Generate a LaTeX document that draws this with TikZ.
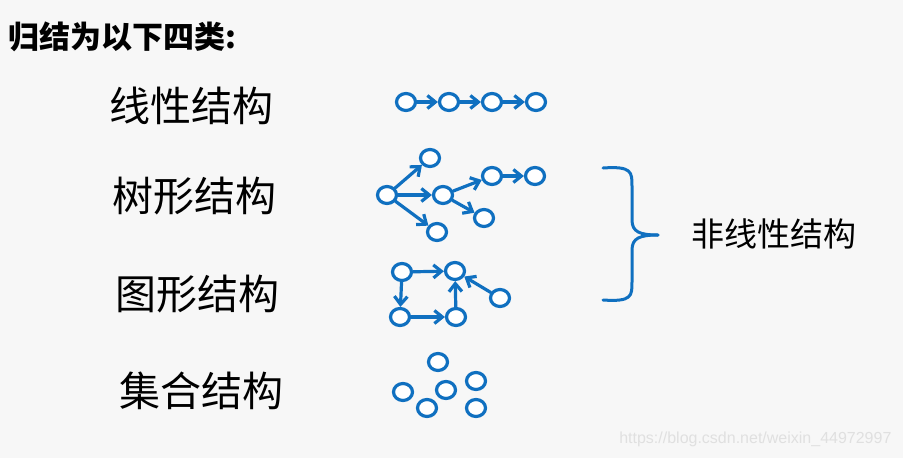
\documentclass[tikz,border=0pt]{standalone}
\usepackage{fontspec}
\newfontfamily\cjk{Noto Sans CJK SC}
\usetikzlibrary{arrows.meta,shapes.geometric}
\definecolor{dsblue}{RGB}{16,112,192}

\begin{document}
\begin{tikzpicture}[x=1pt,y=-1pt,>={Straight Barb[length=8pt,width=13pt]}, line join=round, line cap=round,
	vtx/.style={ellipse,draw=dsblue,fill=white,line width=3.2pt,minimum width=19pt,minimum height=17pt,inner sep=0pt},
	edge/.style={->,draw=dsblue,line width=3.2pt},
	kind/.style={font=\cjk\fontsize{41}{42}\selectfont,text=black}]
	\fill[black!3] (0,0) rectangle (903,458);
	\useasboundingbox (0,0) rectangle (903,458);
	% title
	\node[font=\cjk\bfseries\fontsize{31}{32}\selectfont,anchor=west] (title) at (5,37) {归结为以下四类:};
	% the four kinds
	\node[kind] (klin) at (191,106) {线性结构};
	\node[kind] (ktree) at (194,196) {树形结构};
	\node[kind] (kgraph) at (197,294) {图形结构};
	\node[kind] (kset) at (201,391) {集合结构};
	% linear
	\node[vtx] (l1) at (406,102) {};
	\node[vtx] (l2) at (449,102) {};
	\node[vtx] (l3) at (492,102) {};
	\node[vtx] (l4) at (536,102) {};
	\draw[edge] (l1)--(l2);
	\draw[edge] (l2)--(l3);
	\draw[edge] (l3)--(l4);
	% tree
	\node[vtx] (t0) at (387,195) {};
	\node[vtx] (t1) at (430,158) {};
	\node[vtx] (t2) at (443,195) {};
	\node[vtx] (t3) at (437,232) {};
	\node[vtx] (t4) at (492,176) {};
	\node[vtx] (t5) at (535,176) {};
	\node[vtx] (t6) at (484,218) {};
	\draw[edge] (t0)--(t1);
	\draw[edge] (t0)--(t2);
	\draw[edge] (t0)--(t3);
	\draw[edge] (t2)--(t4);
	\draw[edge] (t4)--(t5);
	\draw[edge] (t2)--(t6);
	% graph
	\node[vtx] (g1) at (402,272) {};
	\node[vtx] (g2) at (455,271) {};
	\node[vtx] (g3) at (400,317) {};
	\node[vtx] (g4) at (456,317) {};
	\node[vtx] (g5) at (500,298) {};
	\draw[edge] (g1)--(g2);
	\draw[edge] (g1)--(g3);
	\draw[edge] (g3)--(g4);
	\draw[edge] (g4)--(g2);
	\draw[edge] (g5)--(g2);
	% set
	\node[vtx] (s1) at (438,362) {};
	\node[vtx] (s2) at (403,392) {};
	\node[vtx] (s3) at (446,390) {};
	\node[vtx] (s4) at (476,381) {};
	\node[vtx] (s5) at (427,408) {};
	\node[vtx] (s6) at (476,408) {};
	% brace
	\coordinate (btop) at (603,168);
	\coordinate (bbot) at (603,300);
	\coordinate (btip) at (658,235);
	\draw[dsblue,line width=3pt] (btop) .. controls (632,166) and (632,172) .. (632,186) -- (632,220)
		.. controls (632,232) and (640,235) .. (btip);
	\draw[dsblue,line width=3pt] (bbot) .. controls (632,302) and (632,296) .. (632,282) -- (632,250)
		.. controls (632,238) and (640,235) .. (btip);
	\node[font=\cjk\fontsize{33}{34}\selectfont,anchor=west] (nonlin) at (688,234) {非线性结构};
	% watermark
	\node[font=\fontspec{Liberation Sans}\fontsize{16}{16}\selectfont,text=black!12,anchor=east] (mark) at (895,439) {https://blog.csdn.net/weixin\_44972997};
\end{tikzpicture}
\end{document}
